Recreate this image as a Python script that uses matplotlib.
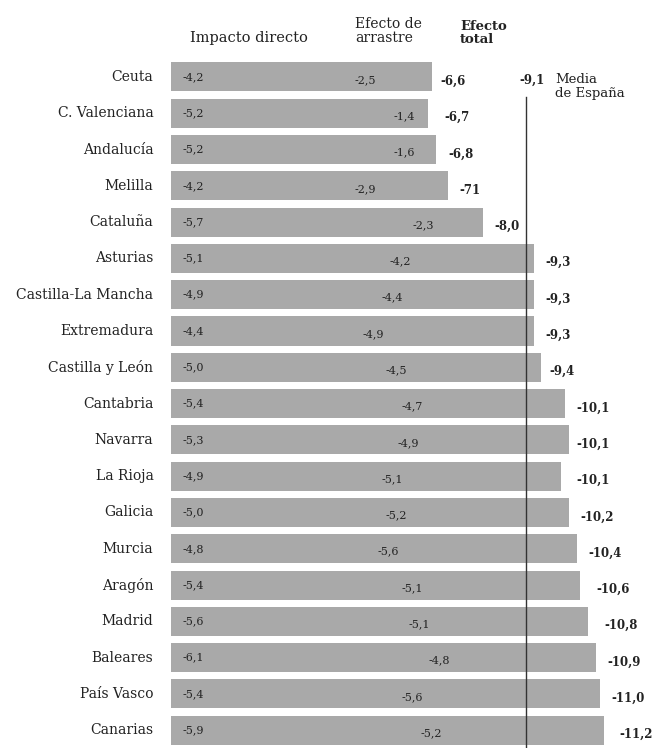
import matplotlib
matplotlib.use("Agg")
import matplotlib.pyplot as plt

# Efecto sobre el PIB por comunidad (puntos porcentuales)
regions = [
    "Ceuta", "C. Valenciana", "Andalucía", "Melilla", "Cataluña", "Asturias",
    "Castilla-La Mancha", "Extremadura", "Castilla y León", "Cantabria",
    "Navarra", "La Rioja", "Galicia", "Murcia", "Aragón", "Madrid",
    "Baleares", "País Vasco", "Canarias",
]
direct = [-4.2, -5.2, -5.2, -4.2, -5.7, -5.1, -4.9, -4.4, -5.0, -5.4,
          -5.3, -4.9, -5.0, -4.8, -5.4, -5.6, -6.1, -5.4, -5.9]
drag = [-2.5, -1.4, -1.6, -2.9, -2.3, -4.2, -4.4, -4.9, -4.5, -4.7,
        -4.9, -5.1, -5.2, -5.6, -5.1, -5.1, -4.8, -5.6, -5.2]
total = [-6.6, -6.7, -6.8, -7.1, -8.0, -9.3, -9.3, -9.3, -9.4, -10.1,
         -10.1, -10.1, -10.2, -10.4, -10.6, -10.8, -10.9, -11.0, -11.2]
total_labels = ["-6,6", "-6,7", "-6,8", "-71", "-8,0", "-9,3", "-9,3", "-9,3",
                "-9,4", "-10,1", "-10,1", "-10,1", "-10,2", "-10,4", "-10,6",
                "-10,8", "-10,9", "-11,0", "-11,2"]
spain_mean = -9.1


def fmt(v):
    return f"{v:.1f}".replace(".", ",")


fig = plt.figure(figsize=(6.56, 7.48), dpi=100)
ax = fig.add_axes([0, 0, 1, 1])
ax.set_xlim(4.385, -12.436)
ax.set_ylim(18.49, -2.12)
ax.axis("off")

bar_color = "#a9a9a9"
ys = list(range(len(regions)))
ax.barh(ys, direct, height=0.8, color=bar_color, linewidth=0)
ax.barh(ys, drag, left=direct, height=0.8, color=bar_color, linewidth=0)

serif = "DejaVu Serif"
for y, name, d, g, t, lab in zip(ys, regions, direct, drag, total, total_labels):
    ax.text(0.45, y, name, ha="right", va="center", family=serif,
            fontsize=10, color="#222222")
    ax.text(-0.3, y, fmt(d), ha="left", va="center", family=serif,
            fontsize=8, color="#222222")
    ax.text(d - 0.5, y + 0.08, fmt(g), ha="left", va="center", family=serif,
            fontsize=8, color="#222222")
    ax.text(t - 0.3, y + 0.12, lab, ha="left", va="center", family=serif,
            fontsize=8.5, fontweight="bold", color="#222222")

# Media de España
ax.plot([spain_mean, spain_mean], [0.55, 18.49], color="#333333", lw=1.0)
ax.text(spain_mean - 0.48, 0.1, fmt(spain_mean), ha="right", va="center",
        family=serif, fontsize=8.5, fontweight="bold", color="#222222")
ax.text(spain_mean - 0.75, -0.12, "Media\nde España", ha="left", va="top",
        family=serif, fontsize=9.5, color="#222222", linespacing=1.1)

# Cabeceras
fig.text(190 / 656, 1 - 38 / 748, "Impacto directo", ha="left", va="center",
         family=serif, fontsize=10.5, color="#222222")
fig.text(355 / 656, 1 - 31 / 748, "Efecto de\narrastre", ha="left", va="center",
         family=serif, fontsize=10, color="#222222", linespacing=1.05)
fig.text(460 / 656, 1 - 33 / 748, "Efecto\ntotal", ha="left", va="center",
         family=serif, fontsize=9.5, fontweight="bold", color="#222222",
         linespacing=1.05)

fig.savefig("out.png", dpi=100, facecolor="white")
